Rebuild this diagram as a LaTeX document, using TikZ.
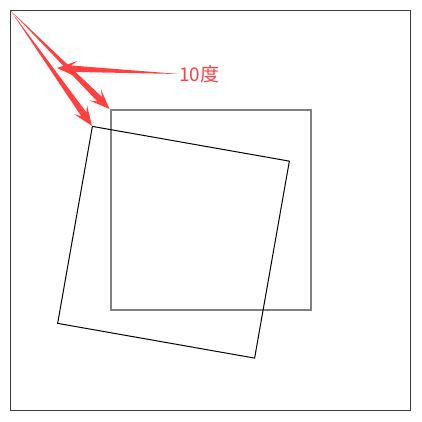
\documentclass[tikz,border=0pt]{standalone}
\usepackage{fontspec}
\newfontfamily\cjk{Noto Sans CJK SC}
\usetikzlibrary{calc}
\definecolor{arrowred}{RGB}{255,64,64}
\definecolor{framegray}{RGB}{60,60,60}
\tikzset{
  frame/.style={draw=framegray,line width=1pt},
  oldsquare/.style={draw=gray,line width=2pt,minimum size=200pt,inner sep=0pt},
  newsquare/.style={draw=black,line width=1pt,minimum size=200pt,inner sep=0pt},
  anglelabel/.style={text=arrowred,inner sep=0pt,font=\cjk\fontsize{19}{19}\selectfont}
}
% tapered arrow from #1 to #2
\newcommand{\taperarrow}[2]{%
  \coordinate (hb) at ($(#2)!20pt!(#1)$);
  \coordinate (sb) at ($(#2)!14pt!(#1)$);
  \fill[arrowred] (#1) -- ($(sb)!3.2pt!90:(#1)$) -- ($(hb)!8pt!90:(#1)$) -- (#2)
    -- ($(hb)!8pt!-90:(#1)$) -- ($(sb)!3.2pt!-90:(#1)$) -- cycle;
}
\begin{document}
\begin{tikzpicture}[x=1pt,y=-1pt]
\useasboundingbox (0,0) rectangle (422,422);
\draw[frame] (10.5,10.5) rectangle (410.5,410.5);
\coordinate (corner) at (10.5,10.5);
\node[oldsquare] (orig) at (210.5,210) {};
\node[newsquare,rotate=-10] (turned) at (173.5,242.25) {};
\node[anglelabel,anchor=west] (lbl) at (179,74) {10度};
\coordinate (tip) at (57,68);
\taperarrow{corner}{orig.north west}
\taperarrow{corner}{turned.north west}
\taperarrow{lbl.west}{tip}
\end{tikzpicture}
\end{document}
